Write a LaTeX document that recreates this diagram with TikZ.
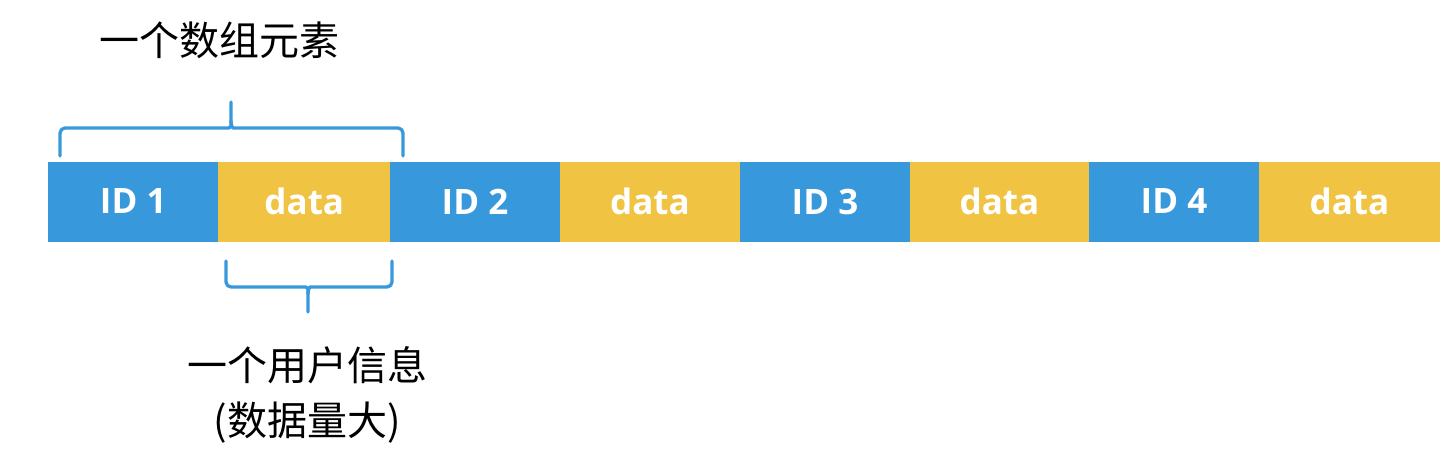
\documentclass[tikz,border=0pt]{standalone}
\usepackage{fontspec}
\setmainfont{Open Sans}
\newfontfamily\cjk{Noto Sans CJK SC}
\definecolor{idblue}{HTML}{3799DB}
\definecolor{datayellow}{HTML}{F1C343}
\begin{document}
\begin{tikzpicture}[x=1pt,y=-1pt,
  seg/.style={draw=none,minimum height=80pt,inner sep=0pt,outer sep=0pt,anchor=north west,
    text=white,font=\fontsize{35}{40}\selectfont\bfseries},
  idseg/.style={seg,fill=idblue},
  dataseg/.style={seg,fill=datayellow},
  brace/.style={draw=idblue,line width=3.3pt,line cap=round,line join=round},
  cjklabel/.style={font=\cjk\fontsize{40}{55}\selectfont,align=center,inner sep=0pt}]
\useasboundingbox (0,0) rectangle (1452,452);
\node[idseg,minimum width=170.5pt] (b1) at (48,161.5) {ID 1};
\node[dataseg,minimum width=172pt] (b2) at (218.3,161.5) {data};
\node[idseg,minimum width=170pt] (b3) at (390,161.5) {ID 2};
\node[dataseg,minimum width=180pt] (b4) at (560,161.5) {data};
\node[idseg,minimum width=170pt] (b5) at (740,161.5) {ID 3};
\node[dataseg,minimum width=179pt] (b6) at (910,161.5) {data};
\node[idseg,minimum width=170pt] (b7) at (1089,161.5) {ID 4};
\node[dataseg,minimum width=181pt] (b8) at (1259,161.5) {data};
% top brace
\coordinate (tl) at (60,156);
\coordinate (tr) at (403,156);
\coordinate (tt) at (231,102);
\draw[brace,rounded corners=5pt] (tl) -- (60,128) -- (224,128)
  .. controls (229,128) and (231,126) .. (231,121) -- (tt);
\draw[brace,rounded corners=5pt] (tr) -- (403,128) -- (238,128)
  .. controls (233,128) and (231,126) .. (231,121);
% bottom brace
\coordinate (bl) at (226,261);
\coordinate (br) at (392,261);
\coordinate (bt) at (308,312);
\draw[brace,rounded corners=5pt] (bl) -- (226,287) -- (301,287)
  .. controls (306,287) and (308,289) .. (308,294) -- (bt);
\draw[brace,rounded corners=5pt] (br) -- (392,287) -- (315,287)
  .. controls (310,287) and (308,289) .. (308,294);
\node[cjklabel] (top) at (219,40) {一个数组元素};
\node[cjklabel] (bottom) at (307,395) {一个用户信息\\(数据量大)};
\end{tikzpicture}
\end{document}
